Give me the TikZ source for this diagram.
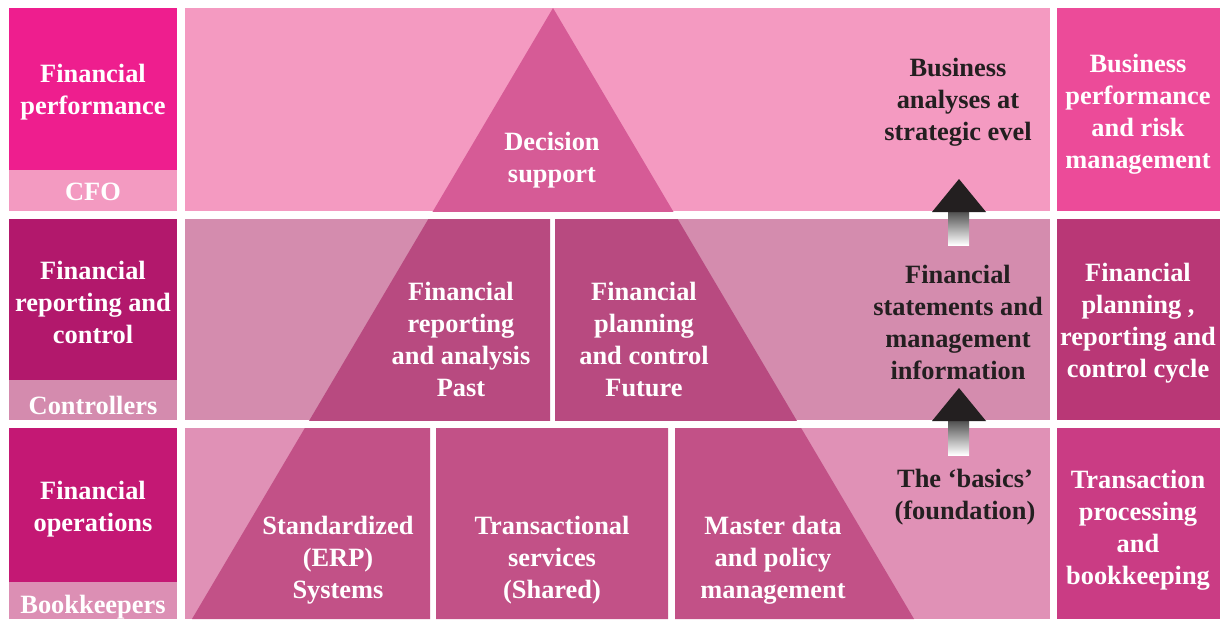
\documentclass[tikz,border=0pt]{standalone}
\usepackage{fontspec}
\setmainfont{Liberation Serif}
\definecolor{cTL}{HTML}{EE1E8E}
\definecolor{cTLb}{HTML}{F39AC1}
\definecolor{cML}{HTML}{B2186C}
\definecolor{cMLb}{HTML}{D48BAE}
\definecolor{cBL}{HTML}{C41874}
\definecolor{cBLb}{HTML}{DC8FB4}
\definecolor{cTbg}{HTML}{F49AC1}
\definecolor{cTtri}{HTML}{D65B96}
\definecolor{cMbg}{HTML}{D48CAE}
\definecolor{cMtri}{HTML}{B84A80}
\definecolor{cBbg}{HTML}{E091B6}
\definecolor{cBtri}{HTML}{C25187}
\definecolor{cRT}{HTML}{EC4B99}
\definecolor{cRM}{HTML}{B93776}
\definecolor{cRB}{HTML}{CA3C84}
\definecolor{ink}{HTML}{231F20}
\begin{document}
\begin{tikzpicture}[x=1pt,y=-1pt,
  lbl/.style={font=\bfseries\fontsize{26.4}{32}\selectfont, text=white, align=center, inner sep=0pt},
  note/.style={lbl, text=ink},
  headtip/.style={fill=ink},
  shaft/.style={top color=black!70, bottom color=white}]
\useasboundingbox (0,0) rectangle (1225,619);
\fill[white] (0,0) rectangle (1225,619);
% left column
\fill[cTL] (9,8) rectangle (177,170);
\fill[cTLb] (9,170) rectangle (177,211);
\fill[cML] (9,219) rectangle (177,380);
\fill[cMLb] (9,380) rectangle (177,420);
\fill[cBL] (9,428) rectangle (177,582);
\fill[cBLb] (9,582) rectangle (177,619);
% right column
\fill[cRT] (1057,8) rectangle (1220,211);
\fill[cRM] (1057,219) rectangle (1220,420);
\fill[cRB] (1057,428) rectangle (1220,619);
% middle cells with pyramid
\def\tri{(553,8) -- (192,619) -- (914,619) -- cycle}
\fill[cTbg] (185,8) rectangle (1050,211);
\begin{scope}\clip (185,8) rectangle (1050,211); \fill[cTtri] \tri; \end{scope}
\fill[cMbg] (185,219) rectangle (550,420);
\begin{scope}\clip (185,219) rectangle (550,420); \fill[cMtri] \tri; \end{scope}
\fill[cMbg] (555,219) rectangle (1050,420);
\begin{scope}\clip (555,219) rectangle (1050,420); \fill[cMtri] \tri; \end{scope}
\fill[cBbg] (185,428) rectangle (430,619);
\begin{scope}\clip (185,428) rectangle (430,619); \fill[cBtri] \tri; \end{scope}
\fill[cBbg] (436,428) rectangle (668,619);
\begin{scope}\clip (436,428) rectangle (668,619); \fill[cBtri] \tri; \end{scope}
\fill[cBbg] (675,428) rectangle (1050,619);
\begin{scope}\clip (675,428) rectangle (1050,619); \fill[cBtri] \tri; \end{scope}
% arrows
\shade[shaft] (948,211) rectangle (969,245);
\fill[headtip] (959,179) -- (986,212) -- (932,212) -- cycle;
\shade[shaft] (948,420) rectangle (969,455);
\fill[headtip] (959,388) -- (986,421) -- (932,421) -- cycle;
% labels left
\node[lbl] (fp) at (93,92) {Financial\\performance};
\node[lbl] (cfo) at (93,192) {CFO};
\node[lbl] (frc) at (93,302) {Financial\\reporting and\\control};
\node[lbl] (ctrl) at (93,405) {Controllers};
\node[lbl] (fo) at (93,509) {Financial\\operations};
\node[lbl] (bk) at (93,607) {Bookkeepers};
% pyramid labels
\node[lbl] (ds) at (552,160) {Decision\\support};
\node[lbl] (fra) at (461,339) {Financial\\reporting\\and analysis\\Past};
\node[lbl] (fpc) at (644,339) {Financial\\planning\\and control\\Future};
\node[lbl] (erp) at (338,560) {Standardized\\(ERP)\\Systems};
\node[lbl] (ts) at (552,560) {Transactional\\services\\(Shared)};
\node[lbl] (md) at (773,560) {Master data\\and policy\\management};
% notes
\node[note] (ba) at (958,102) {Business\\analyses at\\strategic evel};
\node[note] (fs) at (958,322) {Financial\\statements and\\management\\information};
\node[note] (basics) at (965,497) {The ‘basics’\\(foundation)};
% right labels
\node[lbl] (bp) at (1138,114) {Business\\performance\\and risk\\management};
\node[lbl] (fprc) at (1138,323) {Financial\\planning ,\\reporting and\\control cycle};
\node[lbl] (tp) at (1138,530) {Transaction\\processing\\and\\bookkeeping};
\end{tikzpicture}
\end{document}
